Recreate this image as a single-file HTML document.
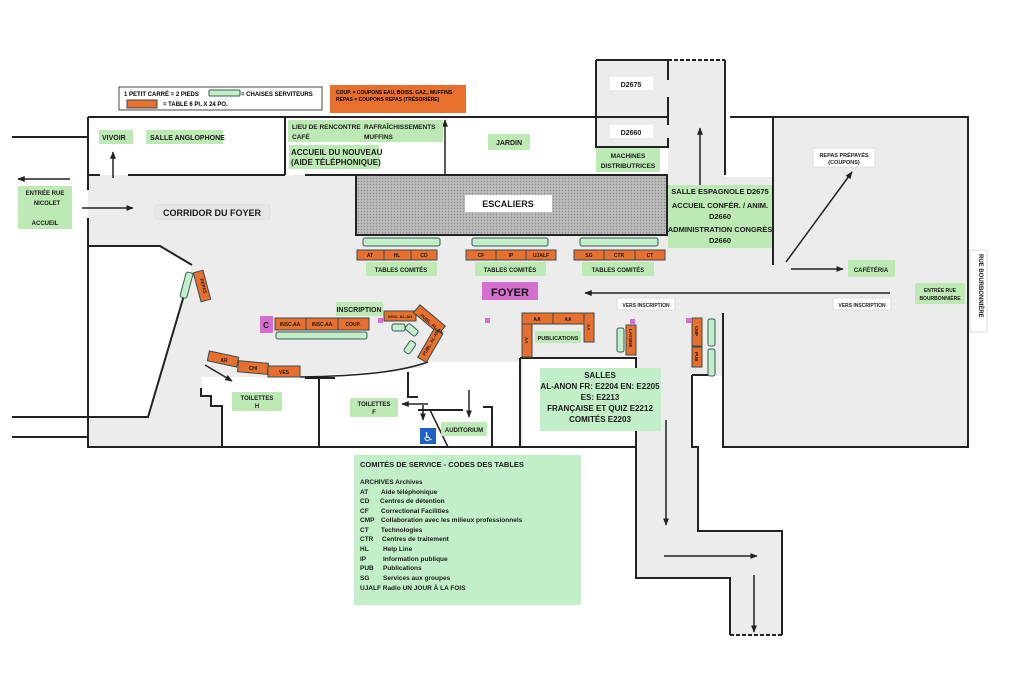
<!DOCTYPE html>
<html><head><meta charset="utf-8"><style>
html,body{margin:0;padding:0;background:#fff;}
svg{display:block;font-family:"Liberation Sans",Arial,sans-serif;font-weight:bold;}
</style></head><body>
<svg width="1024" height="683" viewBox="0 0 1024 683" xmlns="http://www.w3.org/2000/svg">
<defs>
<pattern id="dots" width="3" height="3" patternUnits="userSpaceOnUse"><rect width="3" height="3" fill="#bdbdbd"/><circle cx="1.5" cy="1.5" r="0.7" fill="#8a8a8a"/></pattern>
<marker id="ah" viewBox="0 0 10 10" refX="9" refY="5" markerWidth="5" markerHeight="5" orient="auto"><path d="M0,1 L10,5 L0,9 z" fill="#222"/></marker>
</defs>
<g fill="#ececec">
<rect x="88" y="175" width="685" height="272"/>
<rect x="773" y="117" width="195" height="330"/>
<rect x="668" y="60" width="57" height="120"/>
<rect x="596" y="60" width="72" height="87"/>
<polygon points="636,447 698,447 698,531 782,531 782,635 730,635 730,578 636,578"/>
</g>
<g fill="#fff">
<polygon points="88,246 160,246 192,265 148,417 88,417"/>
<polygon points="202,377 300,377 420,368 428,362 520,362 520,447 222,447 222,406 211,406 211,396 201,396"/>
<rect x="523" y="358" width="113" height="89"/>
<rect x="692" y="376" width="31" height="71"/>
<rect x="725" y="117" width="48" height="60"/>
</g>
<rect x="356" y="175" width="311" height="60" fill="url(#dots)" stroke="#222" stroke-width="2"/>
<g stroke="#222" stroke-width="2" fill="none">
<path d="M88,117 L595,117"/>
<path d="M88,117 L88,190 M88,218 L88,447 L636,447"/>
<path d="M88,175 L100,175 M128,175 L285,175 M285,117 L285,175"/>
<path d="M305,175 L355,175"/>
<path d="M596,60 L668,60 L668,80 M668,97 L668,125 M668,138 L668,147 L596,147 L596,60"/>
<path d="M596,117 L668,117"/>
<path d="M725,60 L725,175"/>
<path d="M730,117 L968,117 L968,447 L723,447 L723,313"/>
<path d="M773,117 L773,265"/>
<path d="M88,246 L160,246 L192,265"/>
<path d="M190,275 L148,417 L12,417"/>
<path d="M12,437 L88,437"/>
<path d="M12,137 L88,137"/>
<path d="M201,388 L201,396 L211,396 L211,406 L222,406 L222,447"/>
<path d="M300,377 C360,376 400,372 428,362" stroke-width="1.5"/>
<path d="M305,378 L335,378" />
<path d="M319,377 L319,447"/>
<path d="M408,372 L408,397 L418,397"/>
<path d="M418,410 L463,410 M483,407 L492,407 L492,447"/>
<path d="M430,410 L448,447" stroke-width="1.5"/>
<path d="M520,358 L636,358 L636,578 L730,578 L730,635"/>
<path d="M520,358 L520,447"/>
<path d="M692,375 L692,447 L698,447 L698,531 L782,531 L782,635"/>
<path d="M692,375 L712,375"/>
<path d="M723,313 L723,447"/>
<path d="M730,635 L782,635" stroke-dasharray="4,2"/>
<path d="M668,60 L725,60" stroke-dasharray="4,2"/>
</g>
<g stroke="#222" stroke-width="1.5" fill="none" marker-end="url(#ah)">
<path d="M70,179 L18,179"/>
<path d="M82,208 L133,208"/>
<path d="M113,178 L113,152"/>
<path d="M445,175 L445,120"/>
<path d="M700,185 L700,128"/>
<path d="M786,262 L852,172"/>
<path d="M791,269 L843,269"/>
<path d="M890,293 L585,293"/>
<path d="M205,365 L232,381"/>
<path d="M428,404 L402,404"/>
<path d="M423,405 L423,420"/>
<path d="M469,390 L469,417"/>
<path d="M666,420 L666,525"/>
<path d="M664,556 L757,556"/>
<path d="M754,575 L754,632"/>
</g>
<rect x="119" y="87" width="203" height="23" fill="#fff" stroke="#444" stroke-width="1"/>
<text x="124" y="96" font-size="6">1 PETIT CARRÉ = 2 PIEDS</text>
<rect x="209" y="90" width="31" height="6" fill="#c2efc8" stroke="#3a5a5a" stroke-width="1" rx="1"/>
<text x="241" y="96" font-size="6">= CHAISES  SERVITEURS</text>
<rect x="127" y="100" width="30" height="8" fill="#e8702e" stroke="#3a4a4a" stroke-width="1"/>
<text x="163" y="106" font-size="6">= TABLE 6 PI. X 24 PO.</text>
<rect x="330" y="85" width="136" height="28" fill="#e8702e"/>
<text x="336" y="94" font-size="5">COUP. = COUPONS EAU, BOISS. GAZ., MUFFINS</text>
<text x="336" y="101" font-size="5">REPAS = COUPONS REPAS (TRÉSORIÈRE)</text>
<g fill="#bde9b5">
<rect x="99" y="130" width="34" height="14"/>
<rect x="146" y="130" width="77" height="14"/>
<rect x="288" y="120" width="155" height="22"/>
<rect x="289" y="145" width="90" height="24"/>
<rect x="488" y="134" width="42" height="16"/>
<rect x="596" y="148" width="64" height="24"/>
<rect x="668" y="185" width="104" height="63"/>
<rect x="18" y="186" width="54" height="43"/>
<rect x="366" y="262" width="71" height="14"/>
<rect x="475" y="262" width="71" height="14"/>
<rect x="582" y="262" width="72" height="14"/>
<rect x="848" y="260" width="47" height="17"/>
<rect x="915" y="283" width="50" height="21"/>
<rect x="336" y="302" width="47" height="14"/>
<rect x="535" y="331" width="46" height="12"/>
<rect x="232" y="392" width="50" height="19"/>
<rect x="350" y="398" width="48" height="19"/>
<rect x="441" y="422" width="46" height="14"/>
</g>
<rect x="540" y="368" width="121" height="63" fill="#c2efc8"/>
<rect x="354" y="455" width="227" height="150" fill="#c2efc8"/>
<rect x="155" y="205" width="115" height="14" fill="#e6e6e6" stroke="#ddd"/>
<rect x="465" y="195" width="87" height="17" fill="#fff"/>
<rect x="610" y="77" width="43" height="13" fill="#fff"/>
<rect x="610" y="125" width="43" height="13" fill="#fff"/>
<rect x="813" y="148" width="62" height="19" fill="#fff" stroke="#ddd"/>
<rect x="617" y="298" width="58" height="12" fill="#fff" stroke="#ddd"/>
<rect x="833" y="298" width="58" height="12" fill="#fff" stroke="#ddd"/>
<rect x="970" y="250" width="17" height="82" fill="#fff" stroke="#ddd"/>
<rect x="482" y="282" width="56" height="18" fill="#d46fd0"/>
<rect x="260" y="316" width="13" height="17" fill="#d46fd0"/>
<g fill="#d46fd0"><rect x="378" y="318" width="5" height="5"/><rect x="485" y="318" width="5" height="5"/><rect x="630" y="319" width="5" height="5"/><rect x="686" y="318" width="5" height="5"/></g>
<g fill="#c2efc8" stroke="#3a5a5a" stroke-width="1">
<rect x="363" y="238" width="77" height="8" rx="2"/>
<rect x="472" y="238" width="76" height="8" rx="2"/>
<rect x="580" y="238" width="78" height="8" rx="2"/>
<rect x="276" y="332" width="91" height="7" rx="2"/>
<rect x="392" y="324" width="13" height="7" rx="2"/>
<rect x="617" y="328" width="7" height="24" rx="2"/>
<rect x="708" y="319" width="7" height="27" rx="2"/>
<rect x="708" y="349" width="7" height="27" rx="2"/>
<rect x="183" y="272" width="7" height="26" rx="2" transform="rotate(15 186 285)"/>
<rect x="405" y="326" width="13" height="7" rx="2" transform="rotate(40 411 330)"/>
<rect x="404" y="344" width="13" height="7" rx="2" transform="rotate(-55 410 348)"/>
</g>
<g fill="#e8702e" stroke="#3a4a4a" stroke-width="1">
<rect x="357" y="250" width="27" height="10"/><rect x="384" y="250" width="27" height="10"/><rect x="411" y="250" width="26" height="10"/>
<rect x="466" y="250" width="30" height="10"/><rect x="496" y="250" width="30" height="10"/><rect x="526" y="250" width="30" height="10"/>
<rect x="574" y="250" width="30" height="10"/><rect x="604" y="250" width="31" height="10"/><rect x="635" y="250" width="30" height="10"/>
<rect x="275" y="318" width="31" height="12"/><rect x="306" y="318" width="32" height="12"/><rect x="338" y="318" width="31" height="12"/>
<rect x="384" y="311" width="32" height="10"/>
<rect x="522" y="313" width="31" height="11"/><rect x="553" y="313" width="31" height="11"/>
<rect x="584" y="313" width="10" height="29"/><rect x="522" y="324" width="10" height="33"/>
<rect x="626" y="325" width="10" height="30"/>
<rect x="692" y="318" width="10" height="28"/><rect x="692" y="347" width="10" height="20"/>
<rect x="197" y="271" width="10" height="30" transform="rotate(-15 202 286)"/>
<rect x="413" y="314" width="33" height="10" transform="rotate(40 429 319)"/>
<rect x="414" y="341" width="33" height="10" transform="rotate(-60 430 346)"/>
<rect x="208" y="354" width="30" height="10" transform="rotate(12 223 359)"/>
<rect x="238" y="362" width="30" height="11" transform="rotate(5 253 367)"/>
<rect x="268" y="366" width="32" height="11"/>
</g>
<g fill="#1a1a1a" font-size="7">
<text x="102" y="140">VIVOIR</text>
<text x="150" y="140">SALLE ANGLOPHONE</text>
<text x="292" y="129" font-size="6.5">LIEU DE RENCONTRE</text><text x="364" y="129" font-size="6.5">RAFRAÎCHISSEMENTS</text>
<text x="292" y="139" font-size="6.5">CAFÉ</text><text x="364" y="139" font-size="6.5">MUFFINS</text>
<text x="291" y="155" font-size="8">ACCUEIL DU NOUVEAU</text>
<text x="291" y="165" font-size="8">(AIDE TÉLÉPHONIQUE)</text>
<text x="509" y="145" text-anchor="middle">JARDIN</text>
<text x="628" y="158" text-anchor="middle" font-size="6.5">MACHINES</text>
<text x="628" y="168" text-anchor="middle" font-size="6.5">DISTRIBUTRICES</text>
<text x="631" y="87" text-anchor="middle">D2675</text>
<text x="631" y="135" text-anchor="middle">D2660</text>
<g text-anchor="middle" font-size="7.5">
<text x="720" y="194">SALLE  ESPAGNOLE  D2675</text>
<text x="720" y="208">ACCUEIL  CONFÉR. / ANIM.</text>
<text x="720" y="219">D2660</text>
<text x="720" y="232">ADMINISTRATION CONGRÈS</text>
<text x="720" y="243">D2660</text>
</g>
<g text-anchor="middle" font-size="6">
<text x="45" y="195">ENTRÉE RUE</text><text x="47" y="205">NICOLET</text><text x="45" y="225">ACCUEIL</text>
<text x="844" y="157" font-size="5.5">REPAS PRÉPAYÉS</text><text x="844" y="164" font-size="5.5">(COUPONS)</text>
<text x="940" y="292" font-size="5">ENTRÉE RUE</text><text x="940" y="300" font-size="5">BOURBONNIÈRE</text>
<text x="646" y="307" font-size="5">VERS INSCRIPTION</text>
<text x="862" y="307" font-size="5">VERS INSCRIPTION</text>
<text x="871" y="272">CAFÉTÉRIA</text>
<text x="401" y="272">TABLES COMITÉS</text>
<text x="510" y="272">TABLES COMITÉS</text>
<text x="618" y="272">TABLES COMITÉS</text>
<text x="359" y="312" font-size="7">INSCRIPTION</text>
<text x="558" y="340" font-size="5.5">PUBLICATIONS</text>
<text x="257" y="400">TOILETTES</text><text x="257" y="408">H</text>
<text x="374" y="406">TOILETTES</text><text x="374" y="414">F</text>
<text x="464" y="432" font-size="6">AUDITORIUM</text>
</g>
<text x="212" y="216" text-anchor="middle" font-size="9">CORRIDOR DU FOYER</text>
<text x="508" y="207" text-anchor="middle" font-size="9">ESCALIERS</text>
<text x="510" y="296" text-anchor="middle" font-size="11" fill="#111">FOYER</text>
<text x="266" y="328" text-anchor="middle" font-size="8">C</text>
<g text-anchor="middle" font-size="8">
<text x="600" y="378">SALLES</text>
<text x="600" y="389">AL-ANON  FR: E2204  EN: E2205</text>
<text x="600" y="400">ES: E2213</text>
<text x="600" y="411">FRANÇAISE ET QUIZ E2212</text>
<text x="600" y="422">COMITÉS E2203</text>
</g>
<text x="979" y="254" font-size="6" transform="rotate(90 979 254)">RUE  BOURBONNIÈRE</text>
<g font-size="5" text-anchor="middle">
<text x="370" y="257">AT</text><text x="397" y="257">HL</text><text x="424" y="257">CD</text>
<text x="481" y="257">CF</text><text x="511" y="257">IP</text><text x="541" y="257">UJALF</text>
<text x="589" y="257">SG</text><text x="619" y="257">CTR</text><text x="650" y="257">CT</text>
<text x="290" y="326">INSC.AA</text><text x="322" y="326">INSC.AA</text><text x="353" y="326">COUP.</text>
<text x="400" y="318" font-size="4">INSC. AL-AN</text>
<text x="537" y="321">AA</text><text x="568" y="321">AA</text>
<text x="224" y="362">AR</text><text x="253" y="370">CHI</text><text x="284" y="374">VES</text>
</g>
<g font-size="4.5">
<text x="587" y="324" transform="rotate(90 587 324)">AA</text>
<text x="525" y="337" transform="rotate(90 525 337)">AA</text>
<text x="629" y="329" transform="rotate(90 629 329)">LAYONE</text>
<text x="695" y="326" transform="rotate(90 695 326)">CMP</text>
<text x="695" y="352" transform="rotate(90 695 352)">PUB</text>
<text x="200" y="279" transform="rotate(75 200 279)">REPAS</text>
<text x="420" y="316" transform="rotate(40 420 316)">PUBL. AL-AN</text>
<text x="425" y="356" transform="rotate(-60 425 356)">PUBL. AL-AN</text>
</g>
<g font-size="6.5">
<text x="360" y="467" font-size="7.5">COMITÉS DE SERVICE - CODES DES TABLES</text>
<text x="360" y="484">ARCHIVES   Archives</text>
<text x="360" y="494">AT</text><text x="381" y="494">Aide téléphonique</text>
<text x="360" y="503">CD</text><text x="380" y="503">Centres de détention</text>
<text x="360" y="513">CF</text><text x="381" y="513">Correctional Facilities</text>
<text x="360" y="522">CMP</text><text x="381" y="522">Collaboration avec les milieux professionnels</text>
<text x="360" y="532">CT</text><text x="381" y="532">Technologies</text>
<text x="360" y="541">CTR</text><text x="382" y="541">Centres de traitement</text>
<text x="360" y="551">HL</text><text x="383" y="551">Help Line</text>
<text x="360" y="561">IP</text><text x="383" y="561">Information publique</text>
<text x="360" y="570">PUB</text><text x="383" y="570">Publications</text>
<text x="360" y="580">SG</text><text x="383" y="580">Services aux groupes</text>
<text x="360" y="590">UJALF  Radio UN JOUR À LA FOIS</text>
</g>
</g>
<rect x="420" y="428" width="16" height="16" fill="#1f5fc8"/>
<text x="428" y="441" text-anchor="middle" font-size="12" fill="#fff" font-family="DejaVu Sans">♿</text>
</svg>
</body></html>
